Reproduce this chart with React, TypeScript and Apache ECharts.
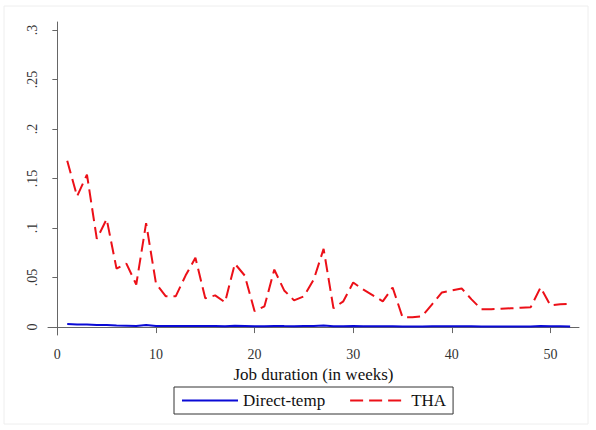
import React, { useEffect, useRef } from "react";
import * as echarts from "echarts";

// Weeks of job duration (x) and the two series plotted against them
const weeks: number[] = Array.from({ length: 52 }, (_, i) => i + 1);

const directTemp: number[] = [
  0.003, 0.0025, 0.0027, 0.002, 0.0021, 0.0015, 0.0014, 0.0012, 0.0021, 0.0012,
  0.001, 0.001, 0.0011, 0.0012, 0.001, 0.001, 0.0009, 0.0013, 0.0011, 0.0008,
  0.0009, 0.0012, 0.001, 0.0009, 0.001, 0.0011, 0.0016, 0.0009, 0.0008, 0.001,
  0.0009, 0.0008, 0.0008, 0.0009, 0.0006, 0.0006, 0.0007, 0.0008, 0.0009, 0.0009,
  0.0009, 0.0008, 0.0007, 0.0007, 0.0007, 0.0007, 0.0007, 0.0007, 0.0011, 0.0008,
  0.0008, 0.0007,
];

const tha: number[] = [
  0.168, 0.132, 0.154, 0.089, 0.109, 0.059, 0.064, 0.043, 0.105, 0.044,
  0.031, 0.031, 0.052, 0.07, 0.029, 0.032, 0.025, 0.064, 0.052, 0.016,
  0.021, 0.058, 0.037, 0.027, 0.031, 0.048, 0.079, 0.019, 0.026, 0.045,
  0.038, 0.032, 0.026, 0.04, 0.01, 0.01, 0.011, 0.023, 0.035, 0.037,
  0.039, 0.028, 0.018, 0.018, 0.0185, 0.019, 0.0195, 0.02, 0.04, 0.022,
  0.023, 0.0236,
];

const xTicks: number[] = [0, 10, 20, 30, 40, 50];
const yTicks: number[] = [0, 0.05, 0.1, 0.15, 0.2, 0.25, 0.3];
const yTickLabels: string[] = ["0", ".05", ".1", ".15", ".2", ".25", ".3"];

const SERIF = "'Liberation Serif', 'Times New Roman', serif";
const BLUE = "#0a0ad6";
const RED = "#ec1018";

export default function App() {
  const ref = useRef<HTMLDivElement>(null);

  useEffect(() => {
    if (!ref.current) return;
    const chart = echarts.init(ref.current, undefined, { renderer: "svg" });

    const axisColor = "#666";
    const labelColor = "#333";

    chart.setOption({
      animation: false,
      backgroundColor: "#fff",
      graphic: [
        {
          type: "rect",
          shape: { x: 4, y: 6, width: 584, height: 418 },
          style: { fill: "none", stroke: "#eeeeee", lineWidth: 1 },
          silent: true,
        },
      ],
      grid: {
        left: 48,
        right: 17,
        top: 22,
        bottom: 95,
        containLabel: false,
        outerBoundsMode: "none",
      },
      legend: {
        left: 174,
        top: 387,
        padding: [5, 7, 5, 7],
        borderColor: "#333",
        borderWidth: 1,
        itemWidth: 56,
        itemHeight: 14,
        itemGap: 24,
        // keep only the line sample in each legend key
        itemStyle: { opacity: 0 },
        textStyle: { fontFamily: SERIF, fontSize: 17, color: "#111" },
        data: ["Direct-temp", "THA"],
      },
      xAxis: {
        type: "value",
        min: -0.95,
        max: 52.9,
        name: "Job duration (in weeks)",
        nameLocation: "middle",
        nameGap: 26,
        nameTextStyle: { fontFamily: SERIF, fontSize: 17, color: "#111" },
        axisLine: { show: true, lineStyle: { color: axisColor, width: 1 } },
        axisTick: {
          show: true,
          length: 6,
          customValues: xTicks,
          lineStyle: { color: axisColor },
        },
        axisLabel: {
          customValues: xTicks,
          margin: 12,
          fontFamily: SERIF,
          fontSize: 14,
          color: labelColor,
        },
        splitLine: { show: false },
      },
      yAxis: {
        type: "value",
        min: -0.008,
        max: 0.308,
        axisLine: { show: true, lineStyle: { color: axisColor, width: 1 } },
        axisTick: {
          show: true,
          length: 5,
          customValues: yTicks,
          lineStyle: { color: axisColor },
        },
        axisLabel: {
          customValues: yTicks,
          rotate: 90,
          margin: 9,
          fontFamily: SERIF,
          fontSize: 14,
          color: labelColor,
          formatter: (v: number) => {
            const i = yTicks.findIndex((t) => Math.abs(t - v) < 1e-9);
            return i >= 0 ? yTickLabels[i] : "";
          },
        },
        splitLine: { show: false },
      },
      series: [
        {
          name: "Direct-temp",
          type: "line",
          data: weeks.map((w, i) => [w, directTemp[i]]),
          symbol: "none",
          showSymbol: false,
          lineStyle: { color: BLUE, width: 2 },
          itemStyle: { color: BLUE },
        },
        {
          name: "THA",
          type: "line",
          data: weeks.map((w, i) => [w, tha[i]]),
          symbol: "none",
          showSymbol: false,
          lineStyle: { color: RED, width: 2, type: [13, 6] },
          itemStyle: { color: RED },
        },
      ],
    });

    return () => chart.dispose();
  }, []);

  return (
    <div
      ref={ref}
      style={{ position: "fixed", left: 0, top: 0, width: 596, height: 430 }}
    />
  );
}
